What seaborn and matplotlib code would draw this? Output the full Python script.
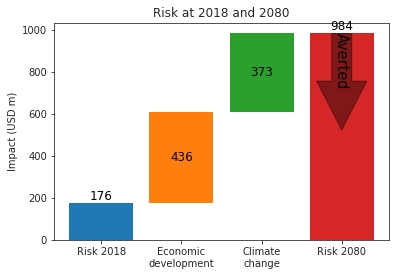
import matplotlib
matplotlib.use("Agg")
import matplotlib.pyplot as plt
import seaborn as sns
import numpy as np
import pandas as pd

categories = ["Risk 2018", "Economic\ndevelopment", "Climate\nchange", "Risk 2080"]
values = [176, 436, 373, 984]
labels = ["176", "436", "373", "984"]
colors = ["#1f77b4", "#ff7f0e", "#2ca02c", "#d62728"]
averted_tip = 524  # arrow tip value

bottoms = [0, values[0], values[0] + values[1], 0]

sns.set_style("ticks")
plt.rcParams["font.family"] = ["DejaVu Sans"]

dpi = 72
fig = plt.figure(figsize=(395 / dpi, 276 / dpi), dpi=dpi)
ax = fig.add_axes([54 / 395, 36 / 276, 335 / 395, 217 / 276])

for i, cat in enumerate(categories):
    df = pd.DataFrame({"cat": [cat], "val": [values[i]]})
    sns.barplot(data=df, x="cat", y="val", order=categories, color=colors[i],
                saturation=1, errorbar=None, bottom=bottoms[i], linewidth=0,
                width=0.8, ax=ax)

# value labels
ax.text(0, values[0], labels[0], ha="center", va="bottom", fontsize=12, color="black")
ax.text(1, bottoms[1] + values[1] / 2, labels[1], ha="center", va="center", fontsize=12, color="black")
ax.text(2, bottoms[2] + values[2] / 2, labels[2], ha="center", va="center", fontsize=12, color="black")
top_total = bottoms[2] + values[2]
ax.text(3, top_total, labels[3], ha="center", va="bottom", fontsize=12, color="black")

# averted arrow
ax.arrow(3, values[3], 0, averted_tip - values[3], width=0.25, head_width=0.625,
         head_length=233, length_includes_head=True, color="k", alpha=0.4)
ax.text(3, values[3], "Averted", rotation=270, ha="center", va="top", fontsize=14.5, color="black")

ax.set_xlim(-0.59, 3.59)
ax.set_ylim(0, 1034)
ax.set_yticks([0, 200, 400, 600, 800, 1000])
ax.set_xlabel("")
ax.set_ylabel("Impact (USD m)", fontsize=10)
ax.set_title("Risk at 2018 and 2080", fontsize=12)
ax.tick_params(labelsize=10)

fig.savefig("out.png", dpi=dpi)
